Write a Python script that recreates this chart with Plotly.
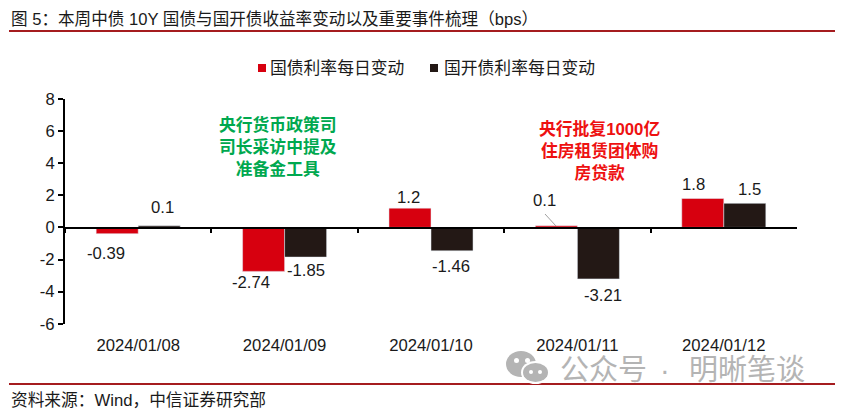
import plotly.graph_objects as go

W, H = 846, 414
FONT = "Liberation Sans, Noto Sans CJK SC, sans-serif"
RED = "#D7000F"
DARK = "#231815"
RULE = "#A51C1F"
TEXT = "#1A1A1A"
GREY = "#B4B4B4"

dates = ["2024/01/08", "2024/01/09", "2024/01/10", "2024/01/11", "2024/01/12"]
gov_change = [-0.39, -2.74, 1.2, 0.1, 1.8]
cdb_change = [0.1, -1.85, -1.46, -3.21, 1.5]
gov_name = "国债利率每日变动"
cdb_name = "国开债利率每日变动"
y_ticks = [-6, -4, -2, 0, 2, 4, 6, 8]


def px(x):
    return x / W


def py(y):
    return 1 - y / H


def label(x, y, text, size=16.7, color=TEXT, bold=False):
    return dict(x=px(x), y=py(y), xref="paper", yref="paper", text=f"<b>{text}</b>" if bold else text,
                showarrow=False, xanchor="center", yanchor="middle",
                font=dict(family=FONT, size=size, color=color))


def left(x, y, text, size=16.6):
    a = label(x, y, text, size)
    a["xanchor"] = "left"
    return a


def line(x0, y0, x1, y1, color, width):
    return dict(type="line", xref="paper", yref="paper", x0=px(x0), y0=py(y0), x1=px(x1), y1=py(y1),
                line=dict(color=color, width=width))


def blob(x0, y0, x1, y1, color):
    return dict(type="circle", xref="paper", yref="paper", x0=px(x0), y0=py(y0), x1=px(x1), y1=py(y1),
                fillcolor=color, line=dict(width=0))


fig = go.Figure()
fig.add_bar(x=dates, y=gov_change, marker_color=RED, name=gov_name)
fig.add_bar(x=dates, y=cdb_change, marker_color=DARK, name=cdb_name)
# invisible trace, only so the bottom axis has the categories for its labels
fig.add_scatter(x=dates, y=[0] * 5, xaxis="x2", mode="lines", line=dict(width=0), hoverinfo="skip")

# label centres picked by eye, they are not all in the same spot relative to the bar
gov_pos = [(106, 253), (251, 282), (408, 197), (544, 201), (693, 184)]
cdb_pos = [(162, 207), (306, 270), (451, 266), (603, 295), (749, 189)]
notes = []
for v, p in zip(gov_change + cdb_change, gov_pos + cdb_pos):
    notes.append(label(p[0], p[1], str(v)))

notes += [
    left(9, 20, "图 5：本周中债 10Y 国债与国开债收益率变动以及重要事件梳理（bps）"),
    left(9, 400, "资料来源：Wind，中信证券研究部", 16.7),
    left(268, 68, gov_name, 16.8),
    left(442, 68, cdb_name, 16.8),
    label(278, 147, "央行货币政策司<br>司长采访中提及<br>准备金工具", 16.8, "#00A84F", True),
    label(599, 151, "央行批复1000亿<br>住房租赁团体购<br>房贷款", 16.8, "#EE1111", True),
    label(603, 370, "公众号", 29, GREY),
    label(665, 370, "·", 29, GREY),
    label(747, 370, "明晰笔谈", 29, GREY),
]

shapes = [
    line(9, 31, 835, 31, RULE, 2),
    line(9, 384, 835, 384, RULE, 2),
    line(545, 214, 556, 226, "#A0A0A0", 1),
    dict(type="rect", xref="paper", yref="paper", x0=px(258), y0=py(64), x1=px(266), y1=py(72),
         fillcolor=RED, line=dict(width=0)),
    dict(type="rect", xref="paper", yref="paper", x0=px(430), y0=py(64), x1=px(438), y1=py(72),
         fillcolor=DARK, line=dict(width=0)),
    # wechat mark in the watermark
    blob(506, 351, 536, 377, GREY),
    blob(521, 361, 550, 384, "white"),
    blob(523, 363, 548, 382, GREY),
    blob(514, 358, 519, 363, "white"),
    blob(525, 358, 530, 363, "white"),
    blob(529, 370, 533, 374, "white"),
    blob(538, 370, 542, 374, "white"),
]

fig.update_layout(
    width=W, height=H, margin=dict(l=0, r=0, t=0, b=0),
    paper_bgcolor="white", plot_bgcolor="white",
    barmode="group", bargap=0.426, bargroupgap=0,
    showlegend=False, font=dict(family=FONT, size=16.7, color=TEXT),
    annotations=notes, shapes=shapes,
    xaxis=dict(
        type="category", domain=[px(65), px(797)], range=[-0.5, 4.5],
        anchor="free", position=py(227.5),
        showgrid=False, zeroline=False, showline=True, linecolor="black", linewidth=1.5,
        ticks="outside", tickson="boundaries", ticklen=5, tickwidth=1.5, tickcolor="black",
        showticklabels=False,
    ),
    xaxis2=dict(
        type="category", overlaying="x", anchor="y", side="bottom", range=[-0.5, 4.5],
        showgrid=False, zeroline=False, showline=False, automargin=False,
        ticks="outside", ticklen=6, tickcolor="rgba(0,0,0,0)",
        tickfont=dict(family=FONT, size=16.7, color=TEXT),
    ),
    yaxis=dict(
        domain=[py(323.7), py(99)], range=[-6, 8], automargin=False,
        tickmode="array", tickvals=y_ticks, ticktext=[str(t) for t in y_ticks],
        showgrid=False, zeroline=False, showline=True, linecolor="black", linewidth=2,
        ticks="outside", ticklen=5, tickwidth=1.5, tickcolor="black",
        tickfont=dict(family=FONT, size=16.7, color=TEXT),
    ),
)

fig.write_html("out.html", config=dict(displayModeBar=False), post_script="document.body.style.margin='0';")
